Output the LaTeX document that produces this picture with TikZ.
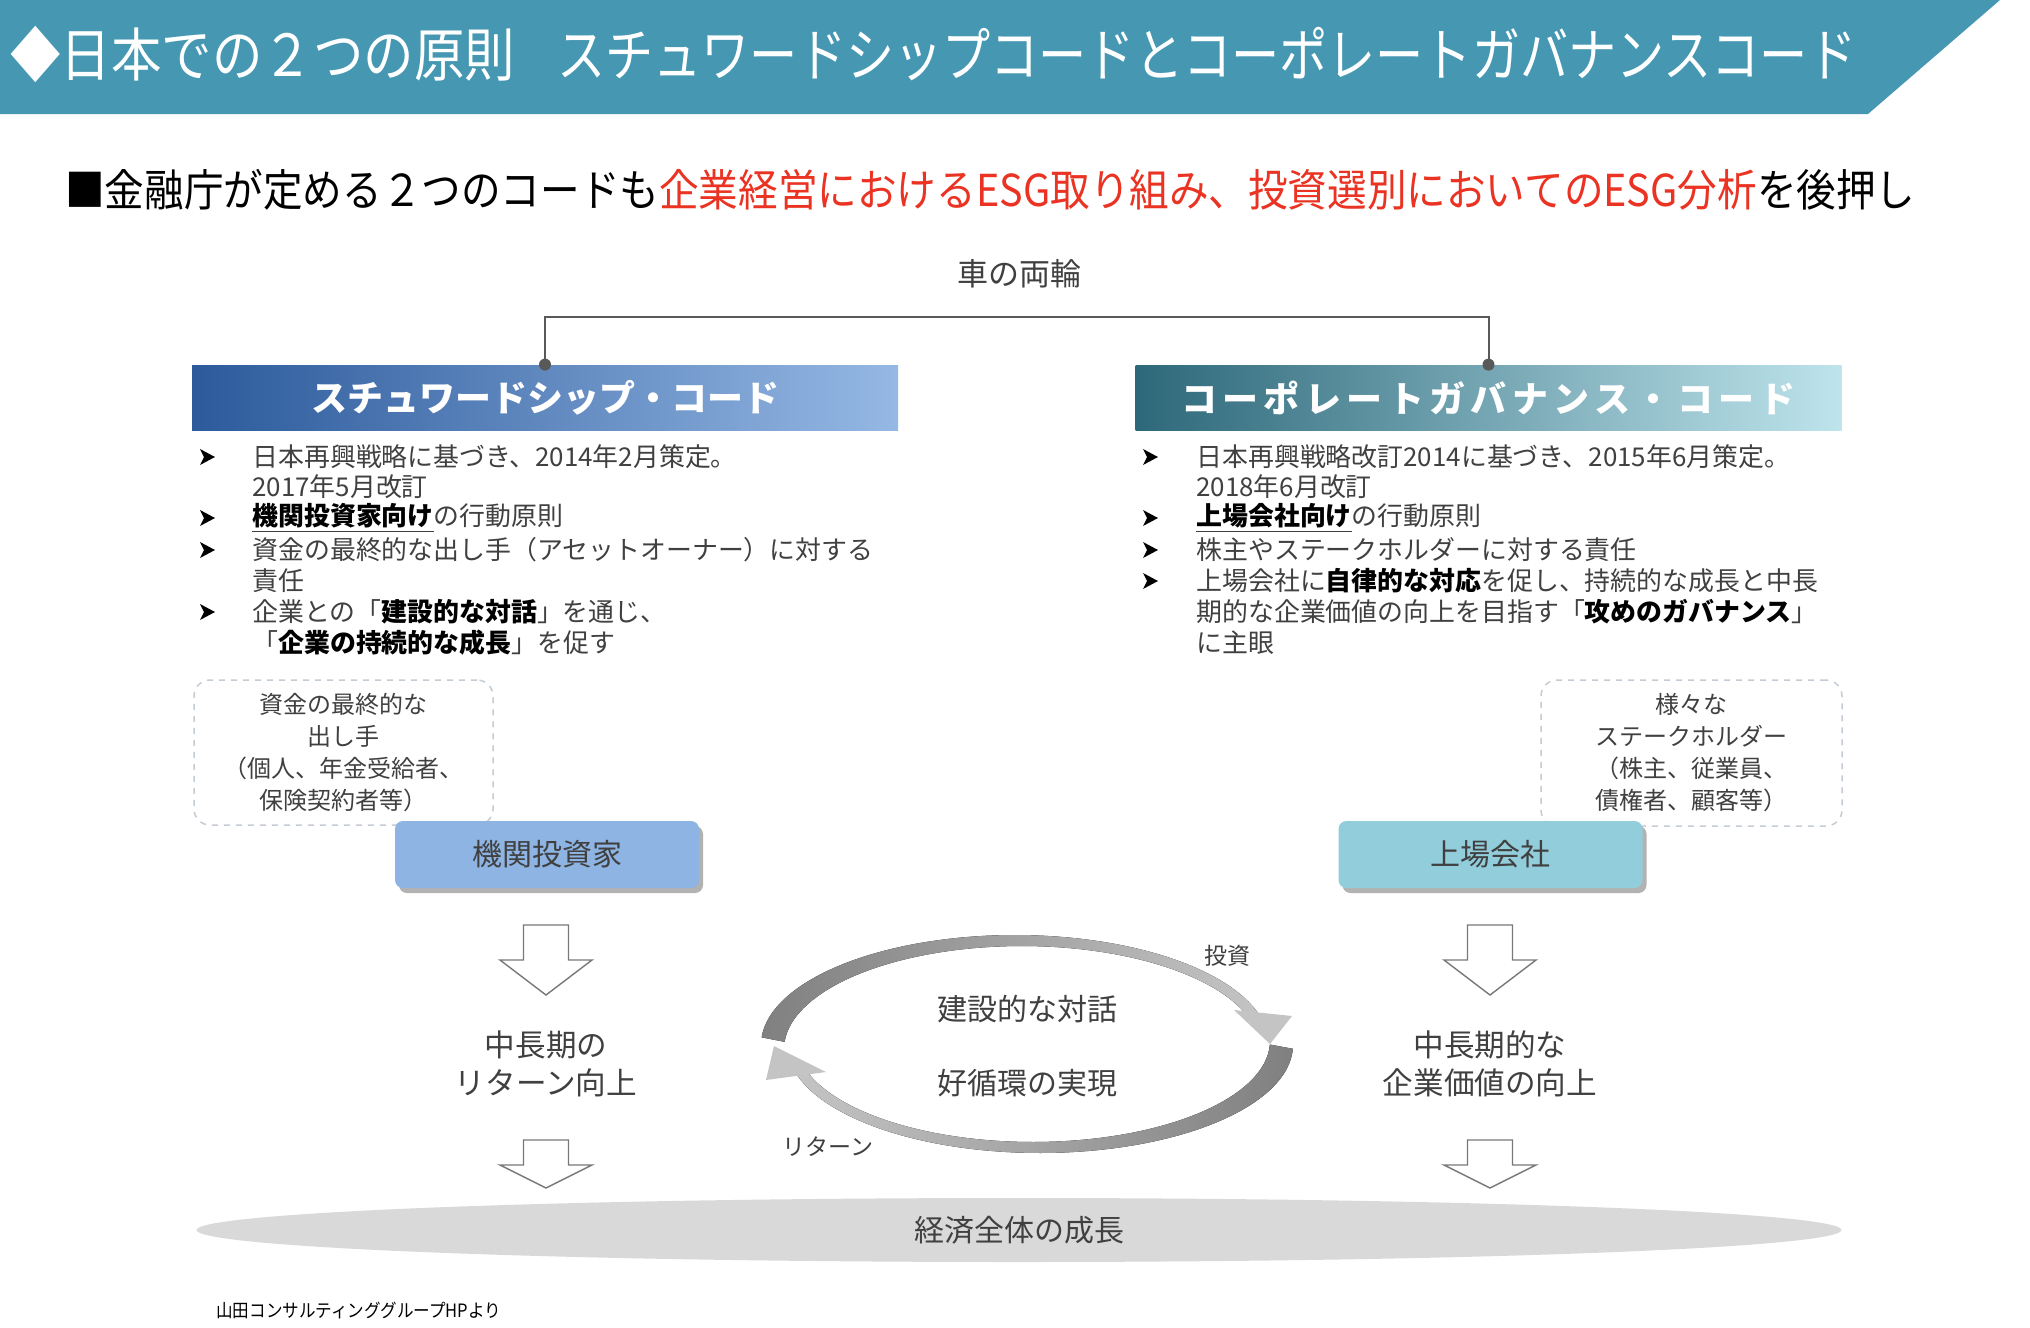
\documentclass[tikz,border=0pt]{standalone}
\usepackage{fontspec}
\setmainfont{Noto Sans CJK JP}
\newfontfamily\cjkt[FakeStretch=0.87]{Noto Sans CJK JP}
\newfontfamily\cjkr[FakeStretch=0.83]{Noto Sans CJK JP}
\newfontfamily\cjks[FakeStretch=0.9]{Noto Sans CJK JP}
\newfontfamily\cjkh[LetterSpace=15]{Noto Sans CJK JP}
\usetikzlibrary{shadows,shapes.geometric}
\definecolor{bandc}{RGB}{69,151,178}
\definecolor{redt}{RGB}{234,51,35}
\definecolor{tgray}{RGB}{64,64,64}
\definecolor{lblue}{RGB}{141,180,226}
\definecolor{lcyan}{RGB}{146,205,220}
\definecolor{hdbla}{RGB}{44,90,155}
\definecolor{hdblb}{RGB}{149,184,228}
\definecolor{hdtla}{RGB}{45,104,122}
\definecolor{hdtlb}{RGB}{190,228,236}
\definecolor{dashc}{RGB}{196,204,214}
\definecolor{linec}{RGB}{89,89,89}
\definecolor{cdark}{RGB}{128,128,128}
\definecolor{clight}{RGB}{196,196,196}
\definecolor{egray}{RGB}{217,217,217}
\definecolor{arrc}{RGB}{120,120,120}
\newcommand\bt[1]{\textbf{\textcolor{black}{#1}}}
\newcommand\bulmark[2]{\fill[black] ({#1-7},{#2-8}) -- ({#1+8},{#2}) -- ({#1-7},{#2+8}) -- ({#1-3},{#2}) -- cycle;}
\newcommand\hollowarrow[4]{\draw[harrow] ({#1-22.5},{#2}) -- ({#1+22.5},{#2}) -- ({#1+22.5},{#3}) -- ({#1+46},{#3}) -- ({#1},{#4}) -- ({#1-46},{#3}) -- ({#1-22.5},{#3}) -- cycle;}
\begin{document}
\begin{tikzpicture}[x=0.5pt,y=-0.5pt,
  txt/.style={inner sep=0pt, text=tgray, anchor=west, font=\fontsize{12.95}{15}\selectfont},
  hdr/.style={inner sep=0pt, text=white, minimum width=353pt, minimum height=32.5pt},
  dbox/.style={draw=dashc, dashed, line width=0.75pt, rounded corners=8pt, align=center, text=tgray, font=\fontsize{12}{16}\selectfont, inner sep=0pt},
  ibox/.style={rounded corners=4pt, minimum width=152pt, minimum height=33.5pt, text=tgray, font=\fontsize{15}{18}\selectfont, drop shadow={shadow xshift=2pt, shadow yshift=-2.5pt, opacity=0.3, fill=black}},
  harrow/.style={draw=arrc, line width=0.7pt, fill=white, line join=miter},
  mtxt/.style={inner sep=0pt, text=tgray, align=center, font=\fontsize{15.3}{19}\selectfont},
  ctxt/.style={inner sep=0pt, text=tgray, font=\fontsize{15}{18}\selectfont},
  stxt/.style={inner sep=0pt, text=tgray, font=\fontsize{11.5}{14}\selectfont}
]
\useasboundingbox (0,0) rectangle (2030,1328);
\fill[white] (0,0) rectangle (2030,1328);
% header band
\fill[bandc] (0,0) -- (2000,0) -- (1868,114) -- (0,114) -- cycle;
\node[inner sep=0pt, text=white, anchor=west, font=\cjkt\fontsize{29}{34}\selectfont] (title) at (10,54) {◆日本での２つの原則};
\node[inner sep=0pt, text=white, anchor=west, font=\cjkr\fontsize{29}{34}\selectfont] (titleb) at (557,54) {スチュワードシップコードとコーポレートガバナンスコード};
% subtitle
\node[inner sep=0pt, anchor=west, font=\cjks\fontsize{22}{26}\selectfont] (sub) at (65,190) {■金融庁が定める２つのコードも\textcolor{redt}{企業経営におけるESG取り組み、投資選別においてのESG分析}を後押し};
% wheels label and bracket
\node[inner sep=0pt, text=tgray, font=\fontsize{15.5}{18}\selectfont] (wheels) at (1019,274) {車の両輪};
\node[hdr, left color=hdbla, right color=hdblb, font=\bfseries\fontsize{18}{20}\selectfont] (sw) at (545,397.5) {スチュワードシップ・コード};
\node[hdr, left color=hdtla, right color=hdtlb, font=\cjkh\bfseries\fontsize{18}{20}\selectfont] (cg) at (1488.5,397.5) {コーポレートガバナンス・コード};
\coordinate (topmid) at (1019,317);
\draw[linec, line width=1pt] (sw.north) |- (topmid) -| (cg.north);
\fill[linec] (sw.north) circle (6);
\fill[linec] (cg.north) circle (6);
% left bullets
\bulmark{207}{457}\bulmark{207}{518}\bulmark{207}{550}\bulmark{207}{612}
\node[txt] (L1) at (252,457) {日本再興戦略に基づき、2014年2月策定。};
\node[txt] (L2) at (252,487) {2017年5月改訂};
\node[txt] (L3) at (252,518) {\underline{\bt{機関投資家向け}}の行動原則};
\node[txt] (L4) at (252,550) {資金の最終的な出し手（アセットオーナー）に対する};
\node[txt] (L5) at (252,581) {責任};
\node[txt] (L6) at (252,612) {企業との「\bt{建設的な対話}」を通じ、};
\node[txt] (L7) at (252,643) {「\bt{企業の持続的な成長}」を促す};
% right bullets
\bulmark{1150}{457}\bulmark{1150}{518}\bulmark{1150}{550}\bulmark{1150}{581}
\node[txt] (R1) at (1196,457) {日本再興戦略改訂2014に基づき、2015年6月策定。};
\node[txt] (R2) at (1196,487) {2018年6月改訂};
\node[txt] (R3) at (1196,518) {\underline{\bt{上場会社向け}}の行動原則};
\node[txt] (R4) at (1196,550) {株主やステークホルダーに対する責任};
\node[txt] (R5) at (1196,581) {上場会社に\bt{自律的な対応}を促し、持続的な成長と中長};
\node[txt] (R6) at (1196,612) {期的な企業価値の向上を目指す「\bt{攻めのガバナンス}」};
\node[txt] (R7) at (1196,643) {に主眼};
% dashed boxes
\node[dbox, minimum width=149.5pt, minimum height=72.5pt] (dl) at (343.5,752.5) {資金の最終的な\\出し手\\（個人、年金受給者、\\保険契約者等）};
\node[dbox, minimum width=150.5pt, minimum height=73pt] (dr) at (1691.5,753) {様々な\\ステークホルダー\\（株主、従業員、\\債権者、顧客等）};
% actor boxes
\node[ibox, fill=lblue] (inv) at (547,854.5) {機関投資家};
\node[ibox, fill=lcyan] (corp) at (1490.5,854.5) {上場会社};
% hollow arrows
\hollowarrow{546}{925}{960}{995}
\hollowarrow{546}{1140}{1165}{1188}
\hollowarrow{1490}{925}{960}{995}
\hollowarrow{1490}{1140}{1165}{1188}
\node[mtxt] (lret) at (546,1064) {中長期の\\リターン向上};
\node[mtxt] (rval) at (1490,1064) {中長期的な\\企業価値の向上};
% cycle
\fill[left color=cdark, right color=clight] plot[domain=176:15, samples=60] ({1015+254*cos(\x)},{1045-110*sin(\x)}) -- plot[domain=15:176, samples=60] ({1022+238*cos(\x)},{1049-103*sin(\x)}) -- cycle;
\fill[clight] (1234,1010) -- (1292,1016) -- (1270,1044) -- cycle;
\fill[left color=clight, right color=cdark] plot[domain=-2:-164, samples=60] ({1040+253*cos(\x)},{1045-108*sin(\x)}) -- plot[domain=-164:-2, samples=60] ({1033+237*cos(\x)},{1041-101*sin(\x)}) -- cycle;
\fill[clight] (766,1080) -- (826,1072) -- (774,1046) -- cycle;
\node[ctxt] (dlg) at (1027,1009) {建設的な対話};
\node[ctxt] (cyc) at (1027,1083) {好循環の実現};
\node[stxt] (invest) at (1227,956) {投資};
\node[stxt] (ret) at (828,1147) {リターン};
% economy ellipse
\node[ellipse, fill=egray, inner sep=0pt, minimum width=822.5pt, minimum height=32pt, text=tgray, font=\fontsize{15}{18}\selectfont] (econ) at (1019,1230) {経済全体の成長};
% source
\node[inner sep=0pt, anchor=west, font=\cjks\fontsize{9.2}{11}\selectfont] (src) at (216,1310) {山田コンサルティンググループHPより};
\end{tikzpicture}
\end{document}
